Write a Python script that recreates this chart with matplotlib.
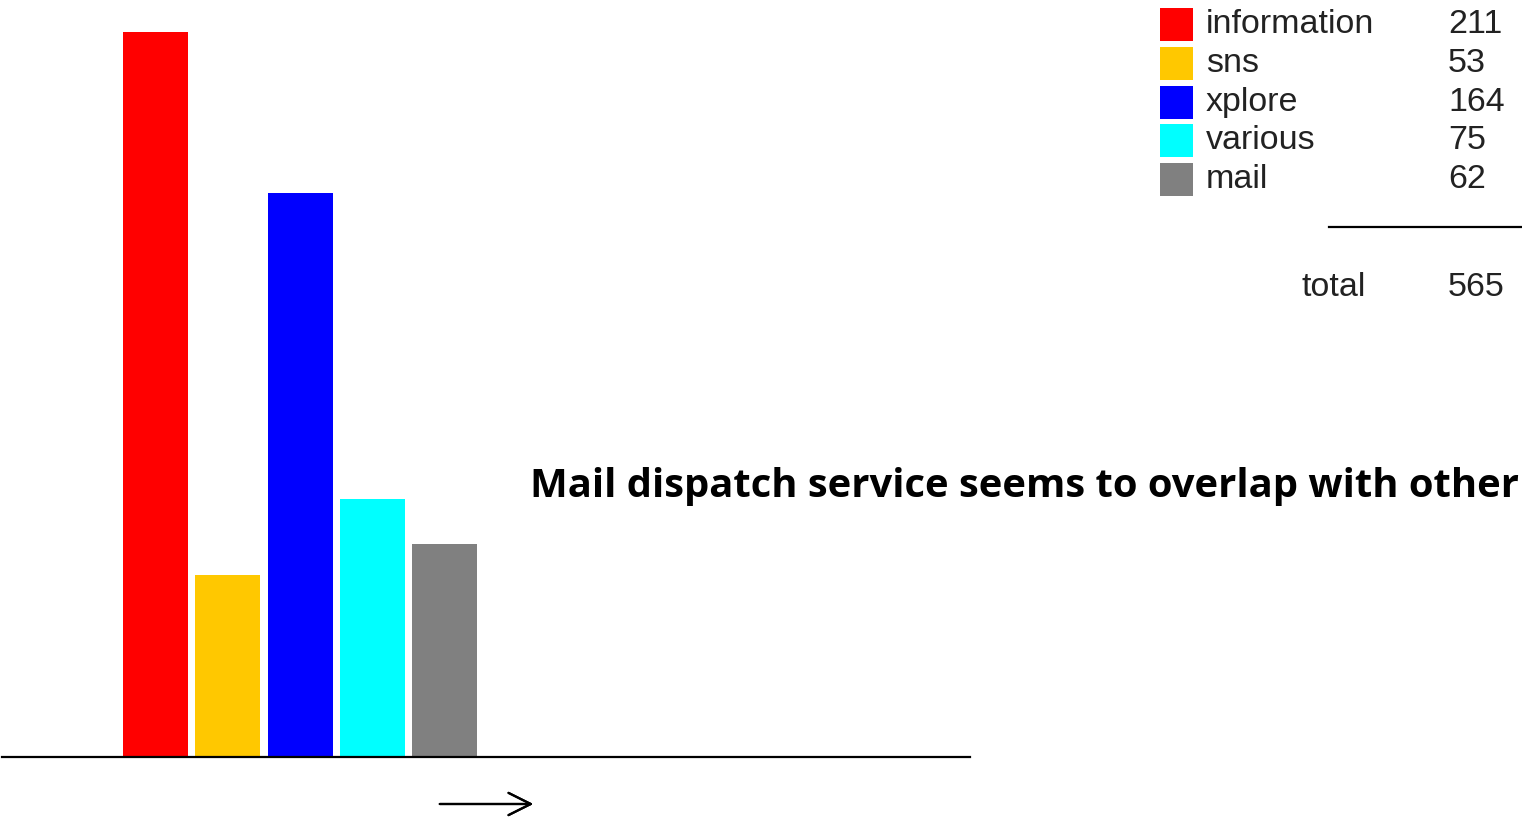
import matplotlib
matplotlib.use("Agg")
from matplotlib import pyplot as plt
from matplotlib.patches import Rectangle
from matplotlib.lines import Line2D

# data
categories = ["information", "sns", "xplore", "various", "mail"]
counts = [211, 53, 164, 75, 62]
colors = ["#ff0000", "#ffc800", "#0000ff", "#00ffff", "#808080"]
note = "Mail dispatch service seems to overlap with other"

W, H = 1522, 822
fig = plt.figure(figsize=(W / 100, H / 100), dpi=100)

def fx(px):
    return px / W

def fy(py):
    return 1 - py / H

# bar area: baseline at y=757 px, top of largest bar at y=32 px
ax = fig.add_axes([fx(2), fy(757), fx(968), (757 - 32) / H])
x = list(range(len(counts)))
ax.bar(x, counts, width=0.9, color=colors, edgecolor="none")
ax.set_xlim(-2.125, 11.27)
ax.set_ylim(0, max(counts))
for s in ["top", "right", "left"]:
    ax.spines[s].set_visible(False)
ax.spines["bottom"].set_linewidth(1.6)
ax.set_xticks([])
ax.set_yticks([])
ax.patch.set_alpha(0)

# arrow under the axis
fig.add_artist(plt.annotate("", xy=(fx(536), fy(804)), xytext=(fx(437), fy(804)),
                            xycoords="figure fraction",
                            arrowprops=dict(arrowstyle="->", lw=1.6, color="black",
                                            mutation_scale=40)))

# legend block at top right
lf = "Liberation Sans"
fs = 24.5
for i, (c, n, col) in enumerate(zip(categories, counts, colors)):
    top = 8 + i * 38.8
    fig.add_artist(Rectangle((fx(1160), fy(top + 33)), fx(33), 33 / H,
                             transform=fig.transFigure, facecolor=col, edgecolor="none"))
    fig.text(fx(1206), fy(top + 16.5), c, family=lf, fontsize=fs, va="center", ha="left",
             color="#222222")
    fig.text(fx(1448), fy(top + 16.5), str(n), family=lf, fontsize=fs, va="center", ha="left",
             color="#222222")

fig.add_artist(Line2D([fx(1329), fx(1522)], [fy(227), fy(227)], color="black", lw=1.6))
fig.text(fx(1302), fy(287), "total", family=lf, fontsize=fs, va="center", ha="left",
         color="#222222")
fig.text(fx(1448), fy(287), str(sum(counts)), family=lf, fontsize=fs, va="center", ha="left",
         color="#222222")

fig.text(fx(530), fy(497), note, family="Open Sans", fontweight="bold", fontsize=28.8,
         ha="left", va="baseline", color="black")

fig.savefig("out.png", dpi=100)
